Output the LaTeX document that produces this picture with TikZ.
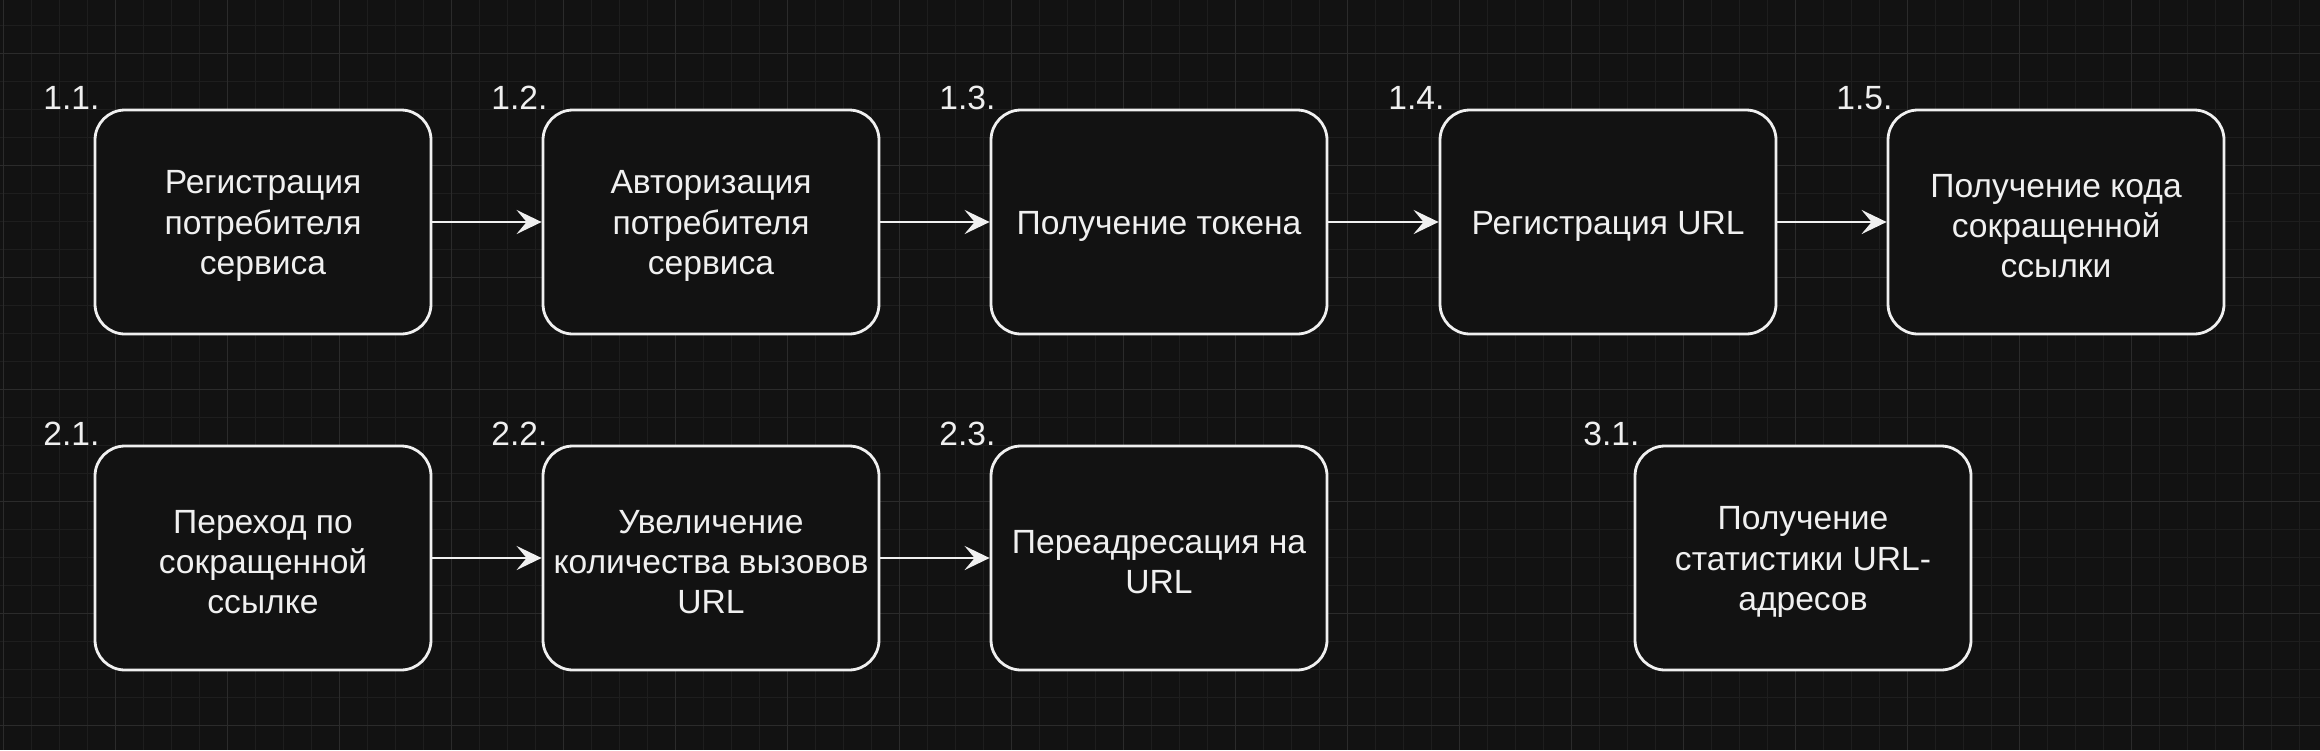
\documentclass[tikz,border=0pt]{standalone}
\usepackage{fontspec}
\setmainfont{Liberation Sans}
\usetikzlibrary{arrows.meta}
\definecolor{bg}{HTML}{121212}
\definecolor{gridminor}{HTML}{1E1E1E}
\definecolor{gridmajor}{HTML}{2B2B2B}
\definecolor{fg}{HTML}{F0F0F0}
\tikzset{
  box/.style={draw=fg, fill=bg, line width=2.8pt, rounded corners=30pt,
    minimum width=336pt, minimum height=224pt, inner sep=0pt},
  boxtext/.style={align=center, text=fg, inner sep=0pt,
    font=\fontsize{33.6pt}{40.3pt}\selectfont},
  lbl/.style={text=fg, inner sep=0pt, font=\fontsize{33.6pt}{40.3pt}\selectfont},
  conn/.style={draw=fg, line width=2.8pt,
    -{Stealth[length=25pt, width=24pt, inset=10pt]}}
}
\begin{document}
\begin{tikzpicture}[x=1pt, y=-1pt]
\fill[bg] (0,0) rectangle (2320,750);
\useasboundingbox (0,0) rectangle (2320,750);
% grid
\foreach \x in {3,31,...,2319} \draw[gridminor, line width=1pt] (\x,0) -- (\x,750);
\foreach \y in {25,53,...,749} \draw[gridminor, line width=1pt] (0,\y) -- (2320,\y);
\foreach \x in {3,115,...,2319} \draw[gridmajor, line width=1pt] (\x,0) -- (\x,750);
\foreach \y in {53,165,...,749} \draw[gridmajor, line width=1pt] (0,\y) -- (2320,\y);
% boxes
\foreach \n/\x/\y in {b11/263/222, b12/711/222, b13/1159/222, b14/1608/222, b15/2056/222,
                      b21/263/558, b22/711/558, b23/1159/558, b31/1803/558}
  \node[box] (\n) at (\x,\y) {};
% box texts
\node[boxtext] (t11) at ([yshift=-4pt]b11.center) {Регистрация\\потребителя\\сервиса};
\node[boxtext] (t12) at ([yshift=-4pt]b12.center) {Авторизация\\потребителя\\сервиса};
\node[boxtext] (t13) at ([yshift=-4pt]b13.center) {Получение токена};
\node[boxtext] (t14) at ([yshift=-4pt]b14.center) {Регистрация URL};
\node[boxtext] (t15) at ([yshift=-4pt]b15.center) {Получение кода\\сокращенной\\ссылки};
\node[boxtext] (t21) at ([yshift=-4pt]b21.center) {Переход по\\сокращенной\\ссылке};
\node[boxtext] (t22) at ([yshift=-4pt]b22.center) {Увеличение\\количества вызовов\\URL};
\node[boxtext] (t23) at ([yshift=-4pt]b23.center) {Переадресация на\\URL};
\node[boxtext] (t31) at ([yshift=-4pt]b31.center) {Получение\\статистики URL-\\адресов};
% labels
\foreach \b/\t in {b11/1.1., b12/1.2., b13/1.3., b14/1.4., b15/1.5., b21/2.1., b22/2.2., b23/2.3., b31/3.1.}
  \node[lbl, anchor=base east] (l\b) at ([xshift=6pt, yshift=-1pt]\b.north west) {\t};
% connectors
\draw[conn] (b11) -- (b12);
\draw[conn] (b12) -- (b13);
\draw[conn] (b13) -- (b14);
\draw[conn] (b14) -- (b15);
\draw[conn] (b21) -- (b22);
\draw[conn] (b22) -- (b23);
\end{tikzpicture}
\end{document}
